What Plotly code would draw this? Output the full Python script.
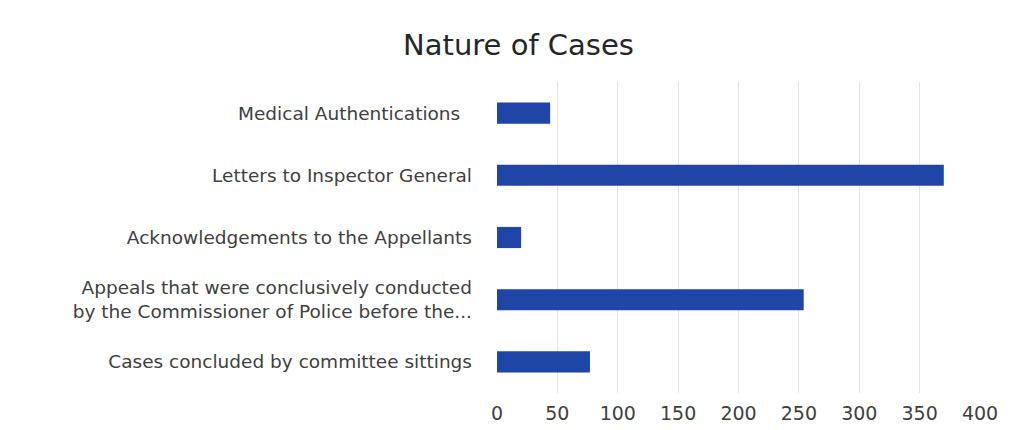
import plotly.graph_objects as go

categories = [
    'Cases concluded by committee sittings',
    'Appeals that were conclusively conducted<br>by the Commissioner of Police before the...',
    'Acknowledgements to the Appellants',
    'Letters to Inspector General',
    'Medical Authentications\u00a0\u00a0',
]
values = [77, 254, 20, 370, 44]
x_ticks = [0, 50, 100, 150, 200, 250, 300, 350, 400]

fig = go.Figure()

fig.add_trace(go.Bar(
    x=values,
    y=categories,
    orientation='h',
    marker=dict(color='#1f45a6', line_width=0),
    width=0.34,
))

fig.update_layout(
    title=dict(text='Nature of Cases', x=0.5, xanchor='center', y=0.914, yanchor='middle',
               font=dict(family='DejaVu Sans', size=29, color='#262626')),
    width=1021,
    height=430,
    margin=dict(l=489, r=49, t=74, b=45),
    plot_bgcolor='white',
    paper_bgcolor='white',
    font=dict(family='DejaVu Sans', size=15, color='#404040'),
    showlegend=False,
)

fig.update_xaxes(range=[0, 400], tickvals=x_ticks, showgrid=True, gridcolor='#e4e4e4',
                 gridwidth=1, zeroline=False, showline=False, ticks='', automargin=False,
                 ticklabelstandoff=7, tickfont=dict(size=19, color='#404040'))
fig.update_yaxes(showgrid=False, ticks='', ticklabelstandoff=24, automargin=False,
                 tickfont=dict(size=18.5, color='#404040'))

fig.write_html('out.html')
